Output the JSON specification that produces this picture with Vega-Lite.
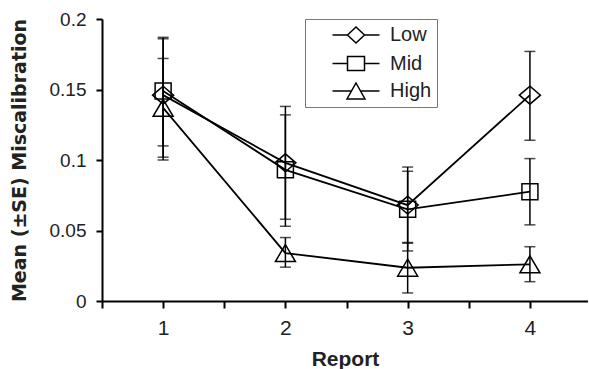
{
  "$schema": "https://vega.github.io/schema/vega-lite/v6.json",
  "width": 486,
  "height": 282,
  "autosize": "none",
  "padding": {"left": 102, "top": 19, "right": 0, "bottom": 68},
  "background": "white",
  "config": {
    "view": {"stroke": null},
    "font": "Liberation Sans",
    "axis": {"grid": false, "domainColor": "black", "tickColor": "black", "labelColor": "#222", "titleColor": "#222", "domainWidth": 2, "tickWidth": 2, "labelFont": "Liberation Sans", "titleFont": "Liberation Sans"}
  },
  "data": {"values": [
    {"report": 1, "group": "Low", "mean": 0.146, "lo": 0.102, "hi": 0.186},
    {"report": 2, "group": "Low", "mean": 0.098, "lo": 0.058, "hi": 0.138},
    {"report": 3, "group": "Low", "mean": 0.068, "lo": 0.041, "hi": 0.095},
    {"report": 4, "group": "Low", "mean": 0.146, "lo": 0.114, "hi": 0.177},
    {"report": 1, "group": "Mid", "mean": 0.149, "lo": 0.110, "hi": 0.187},
    {"report": 2, "group": "Mid", "mean": 0.093, "lo": 0.053, "hi": 0.132},
    {"report": 3, "group": "Mid", "mean": 0.065, "lo": 0.0355, "hi": 0.092},
    {"report": 4, "group": "Mid", "mean": 0.0775, "lo": 0.054, "hi": 0.101},
    {"report": 1, "group": "High", "mean": 0.137, "lo": 0.100, "hi": 0.172},
    {"report": 2, "group": "High", "mean": 0.034, "lo": 0.024, "hi": 0.045},
    {"report": 3, "group": "High", "mean": 0.0236, "lo": 0.0057, "hi": 0.0415},
    {"report": 4, "group": "High", "mean": 0.026, "lo": 0.0137, "hi": 0.0385}
  ]},
  "resolve": {"scale": {"shape": "independent"}},
  "layer": [
    {
      "mark": {"type": "line", "color": "black", "strokeWidth": 1.8},
      "encoding": {
        "x": {"field": "report", "type": "quantitative", "scale": {"domain": [0.5, 4.475], "nice": false, "zero": false},
          "axis": {"orient": "bottom", "values": [0.5, 1, 1.5, 2, 2.5, 3, 3.5, 4, 4.5], "labelExpr": "datum.value % 1 == 0 ? format(datum.value, 'd') : ''", "tickSize": 7, "labelPadding": 9, "labelFontSize": 21, "title": "Report", "titleFontSize": 21, "titleFontWeight": "bold", "titlePadding": 10,
            "encode": {"ticks": {"update": {"y": {"value": -7}, "y2": {"value": 7}}}}}},
        "y": {"field": "mean", "type": "quantitative", "scale": {"domain": [0, 0.2], "nice": false},
          "title": "Mean (±SE) Miscalibration",
          "axis": {"values": [0, 0.05, 0.1, 0.15, 0.2], "format": "~g", "tickSize": 6, "labelPadding": 10, "labelFontSize": 19, "titleFont": "DejaVu Sans", "titleFontSize": 19, "titleFontWeight": "bold", "titlePadding": 20}},
        "detail": {"field": "group"}
      }
    },
    {
      "mark": {"type": "errorbar", "ticks": {"size": 11, "thickness": 1.5, "color": "black"}, "rule": {"strokeWidth": 1.5, "color": "black"}},
      "encoding": {
        "x": {"field": "report", "type": "quantitative"},
        "y": {"field": "lo", "type": "quantitative", "title": "Mean (±SE) Miscalibration"},
        "y2": {"field": "hi"}
      }
    },
    {
      "mark": {"type": "point", "filled": false, "stroke": "black", "strokeWidth": 1.5, "size": 400, "opacity": 1},
      "encoding": {
        "x": {"field": "report", "type": "quantitative"},
        "y": {"field": "mean", "type": "quantitative", "title": "Mean (±SE) Miscalibration"},
        "shape": {"field": "group", "type": "nominal", "legend": null,
          "scale": {"domain": ["Low", "Mid", "High"], "range": ["M-1.05,0L0,-0.9L1.05,0L0,0.9Z", "M-0.8,-0.8H0.8V0.8H-0.8Z", "M0,-0.85L1,0.85L-1,0.85Z"]}}
      }
    },
    {
      "transform": [{"filter": "datum.report > 10"}],
      "mark": {"type": "point", "filled": false, "stroke": "black", "strokeWidth": 1.5, "size": 400, "opacity": 1},
      "encoding": {
        "x": {"field": "report", "type": "quantitative"},
        "y": {"field": "mean", "type": "quantitative", "title": "Mean (±SE) Miscalibration"},
        "shape": {"field": "group", "type": "nominal",
          "scale": {"domain": ["Low", "Mid", "High"], "range": ["M-2.35,0H-0.85M0.85,0H2.35M-0.85,0L0,-0.8L0.85,0L0,0.8Z", "M-2.35,0H-0.85M0.85,0H2.35M-0.85,-0.7H0.85V0.7H-0.85Z", "M-2.35,0H-0.45M0.45,0H2.35M0,-0.8L0.9,0.8L-0.9,0.8Z"]},
          "legend": {
            "title": null, "orient": "none", "legendX": 203, "legendY": 0,
            "fillColor": "white", "strokeColor": "#777", "padding": 5,
            "labelFontSize": 20, "labelFont": "Liberation Sans", "labelColor": "#222",
            "symbolSize": 400, "symbolStrokeWidth": 1.5, "symbolStrokeColor": "black", "symbolOpacity": 1, "symbolFillColor": "transparent", "symbolOffset": 35, "labelOffset": 23, "rowPadding": 6.5
          }}
      }
    }
  ]
}
